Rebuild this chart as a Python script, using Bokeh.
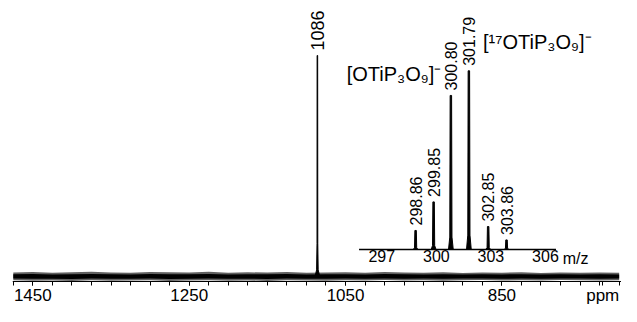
import math
from bokeh.plotting import figure
from bokeh.models import Range1d, FixedTicker
from bokeh.core.properties import value
from bokeh.embed import file_html
from bokeh.resources import INLINE

FONT = "Liberation Sans"

# ---------------- data: 17O NMR spectrum (ppm) ----------------
ppm_ticks = [1450, 1250, 1050, 850]
ppm_minor = list(range(700, 1476, 25))
nmr_peak_ppm = [1086]
nmr_peak_height = [1.0]
nmr_peak_label = ["1086"]
# baseline noise envelope (every 25 ppm, fraction of peak height)
noise_ppm = list(range(1475, 699, -25))
noise_upper = [0.018, 0.020, 0.017, 0.019, 0.021, 0.018, 0.017, 0.020, 0.019, 0.018,
               0.021, 0.017, 0.019, 0.018, 0.020, 0.017, 0.018, 0.019, 0.017, 0.020,
               0.018, 0.017, 0.019, 0.016, 0.018, 0.017, 0.019, 0.016, 0.018, 0.017,
               0.018, 0.017]
noise_lower = [-0.017, -0.019, -0.018, -0.020, -0.017, -0.019, -0.018, -0.017, -0.020, -0.018,
               -0.017, -0.019, -0.018, -0.020, -0.017, -0.018, -0.019, -0.017, -0.018, -0.016,
               -0.018, -0.017, -0.019, -0.017, -0.016, -0.018, -0.017, -0.018, -0.016, -0.017,
               -0.018, -0.017]

# ---------------- data: MS inset (m/z) ----------------
ms_mz = [298.86, 299.85, 300.80, 301.79, 302.85, 303.86]
ms_rel = [10.6, 26.6, 86.2, 100.0, 12.8, 5.3]
ms_label = ["298.86", "299.85", "300.80", "301.79", "302.85", "303.86"]
ms_ticks = [297, 300, 303, 306]
ms_tick_labels = ["297", "300", "303", "306"]

# ---------------- layout constants ----------------
W, H = 621, 306
base_px, top_px = 276, 55          # NMR baseline / peak top (px from top of canvas)
s = base_px - top_px
main_y = Range1d(-(H - base_px) / s, base_px / s)
axis_at = -(281 - base_px) / s     # main axis line position (data units)
ms_base = 248.9
ms_s = 1.786
ms_y = Range1d(-(H - ms_base) / ms_s, ms_base / ms_s)

p = figure(width=W, height=H, output_backend="svg", toolbar_location=None,
           x_range=Range1d(1476, 697), y_range=main_y, y_axis_location=None,
           min_border_left=12, min_border_right=0, min_border_top=0, min_border_bottom=0)
p.extra_x_ranges = {"ms": Range1d(276.692, 310.183)}
p.extra_y_ranges = {"ms": ms_y}
p.grid.visible = False
p.outline_line_color = None
p.background_fill_color = "white"
p.border_fill_color = "white"

ax = p.xaxis[0]
ax.fixed_location = axis_at
ax.ticker = FixedTicker(ticks=ppm_ticks + [721], minor_ticks=ppm_minor)
ax.major_label_overrides = {721: "ppm"}
ax.major_label_text_font = FONT
ax.major_label_text_font_size = "17px"
ax.major_label_text_color = "black"
ax.axis_line_color = "black"
ax.major_tick_line_color = "black"
ax.minor_tick_line_color = "black"
ax.major_tick_in = 0
ax.major_tick_out = 4
ax.minor_tick_in = 0
ax.minor_tick_out = 4
ax.major_label_standoff = 0

# noise band
p.varea(x=noise_ppm, y1=noise_lower, y2=noise_upper, fill_color="#444444", fill_alpha=0.85)
p.varea(x=noise_ppm, y1=[v * 0.55 for v in noise_lower], y2=[v * 0.55 for v in noise_upper],
        fill_color="black")

# NMR peak shape (style constants around each data peak)
PDX = [-3, -1.0, -0.5, -0.35, 0.35, 0.5, 1.0, 3]
PDY = [0, 0.03, 0.15, 1, 1, 0.15, 0.03, 0]
p.patches(xs=[[c + d for d in PDX] for c in nmr_peak_ppm],
          ys=[[h * f for f in PDY] for h in nmr_peak_height],
          fill_color="black", line_color="black", line_width=1)
p.text(x=nmr_peak_ppm, y=nmr_peak_height, text=nmr_peak_label, angle=math.pi / 2,
       text_align="left", text_baseline="middle", y_offset=-5,
       text_font=value(FONT), text_font_size="18px", text_color="black")

# MS inset
p.segment(x0=[295.75], y0=[0], x1=[306.58], y1=[0], line_color="black", line_width=1.5,
          x_range_name="ms", y_range_name="ms")
MDX = [-0.13, -0.06, -0.04, 0.04, 0.06, 0.13]
MDY = [0, 0.08, 1, 1, 0.08, 0]
p.patches(xs=[[c + d for d in MDX] for c in ms_mz],
          ys=[[h * f for f in MDY] for h in ms_rel],
          fill_color="black", line_color="black", line_width=1,
          x_range_name="ms", y_range_name="ms")
p.text(x=ms_mz, y=ms_rel, text=ms_label, angle=math.pi / 2,
       text_align="left", text_baseline="middle", y_offset=-5,
       text_font=value(FONT), text_font_size="16px", text_color="black",
       x_range_name="ms", y_range_name="ms")
p.text(x=ms_ticks, y=[0] * len(ms_ticks), text=ms_tick_labels,
       text_align="center", text_baseline="top", y_offset=1,
       text_font=value(FONT), text_font_size="16px", text_color="black",
       x_range_name="ms", y_range_name="ms")
p.text(x=[306.95], y=[0], text=["m/z"], text_align="left", text_baseline="top", y_offset=1,
       text_font=value(FONT), text_font_size="16px", text_color="black",
       x_range_name="ms", y_range_name="ms")
p.text(x=[300.27], y=[98.4], text=["[OTiP\u2083O\u2089]\u207b"], text_align="right",
       text_baseline="middle", text_font=value(FONT), text_font_size="20px",
       text_color="black", x_range_name="ms", y_range_name="ms")
p.text(x=[302.57], y=[116], text=["[\u00b9\u2077OTiP\u2083O\u2089]\u207b"], text_align="left",
       text_baseline="middle", text_font=value(FONT), text_font_size="20px",
       text_color="black", x_range_name="ms", y_range_name="ms")

open("out.html", "w").write(file_html(p, INLINE))
